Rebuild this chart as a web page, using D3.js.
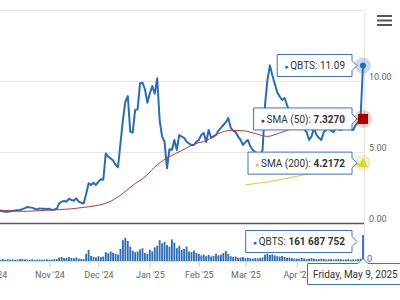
<!DOCTYPE html>
<html><head><meta charset="utf-8">
<script src="https://cdn.jsdelivr.net/npm/d3@7/dist/d3.min.js"></script>
<style>html,body{margin:0;padding:0;background:#fff;overflow:hidden}svg{display:block;font-family:Roboto,"Liberation Sans",Arial,sans-serif}</style>
</head><body>
<svg id="c" width="400" height="300"></svg>
<script>
// ---- data (one value per trading day, oldest first; last = Fri May 9 2025) ----
const price = [
 0.87,0.85,0.82,0.80,0.80, 0.82,0.85,0.88,0.90,0.92,
 0.98,1.05,1.13,1.10,1.08, 1.00,0.96,1.03,1.00,1.00,
 0.98,1.00,0.92,0.95,1.00, 1.38,1.50,1.55,1.50,1.71,
 1.62,1.57,1.74,1.50,1.42, 1.38,2.04,2.80,2.68,2.84,
 2.68,2.90,3.08,3.05,4.90, 4.67,4.55,4.40,4.10,3.92,
 5.60,7.25,8.54,8.94,6.43, 6.36,7.96,8.00,9.84,9.88,
 9.42,8.47,9.13,9.65,9.10, 10.19,7.25,6.08,5.72,3.85,
 5.20,5.14,5.85,5.14,6.20, 6.08,6.00,5.72,5.60,5.49,
 5.50,5.72,5.85,6.20,6.34, 5.70,6.55,6.00,6.10,6.20,
 6.50,6.70,6.90,7.10,7.40, 6.70,6.50,6.40,6.10,5.85,
 5.50,5.70,5.85,5.40,5.14, 5.00,4.90,4.80,5.14,8.30,
 10.07,11.10,10.40,9.80,9.20, 8.90,8.66,8.80,8.30,7.80,
 7.96,7.60,7.40,7.10,6.90, 6.60,6.40,5.85,6.10,6.70,
 6.20,6.00,5.85,6.40,6.55, 6.70,6.50,6.40,6.70,6.60,
 6.55,6.90,6.85,6.83,6.60, 6.55,6.90,7.10,7.40,11.09
];
const sma50Idx = [0,5,10,15,20,25,30,35,40,45,50,55,60,65,70,75,80,85,90,95,100,105,110,115,120,125,130,135,140,145,149];
const sma50 = [0.92,0.86,0.82,0.85,0.90,0.94,1.00,1.10,1.22,1.45,1.95,2.65,3.25,4.10,4.67,5.10,5.55,5.80,6.30,6.52,6.50,6.30,6.10,6.34,6.65,6.95,7.05,7.10,7.20,7.30,7.327];
const sma200Idx = [101,105,110,115,120,125,130,135,140,145,149];
const sma200 = [2.68,2.78,2.89,3.05,3.22,3.40,3.58,3.75,3.92,4.08,4.2172];
const volume = [ // millions of shares
 10,8,12,9,11,8,10,7,9,12,
 14,10,9,8,11,7,9,10,8,9,
 10,8,9,11,12,22,25,18,20,24,
 19,17,22,15,13,12,45,70,32,26,
 22,30,25,28,55,48,60,52,45,40,
 75,130,145,125,90,65,55,60,72,80,
 50,45,70,60,85,95,130,110,120,100,
 90,135,115,80,95,70,75,90,60,55,
 65,50,45,35,40,30,38,28,32,45,
 35,40,50,62,45,30,25,28,20,22,
 25,18,20,17,15,18,16,20,22,40,
 45,38,42,35,30,28,32,25,20,22,
 18,16,15,14,20,16,12,15,18,14,
 12,11,15,13,10,11,12,9,10,13,
 11,9,10,12,8,10,9,12,15,161.687752
];
const monthLabels = ["Oct '24","Nov '24","Dec '24","Jan '25","Feb '25","Mar '25","Apr '25"];
const monthStart = [-2,21,41,62,82,101,122];
const priceTicks = [0,5,10];
const gridTicks = [5,10,15];
const volumeTicks = [0];
const seriesName = "QBTS";
const lastDateLabel = "Friday, May 9, 2025";

// ---- drawing ----
const svg = d3.select("#c");
const BLUE = "#2b6cb3", RED = "#a41d1d", YEL = "#cfcf3a", BORDER = "#3f72ad";
const FONT = 'Roboto,"Liberation Sans",Arial,sans-serif';
const n = price.length;
const x = d3.scaleLinear().domain([0, n - 1]).range([-2.05, 363]);
const y = d3.scaleLinear().domain([0, 15]).range([223, 10]);
const yV = d3.scaleLinear().domain([0, 200]).range([261, 229]);

svg.append("defs").append("clipPath").attr("id","clipP")
  .append("rect").attr("x",0).attr("y",0).attr("width",364).attr("height",223);
svg.append("defs").append("clipPath").attr("id","clipV")
  .append("rect").attr("x",0).attr("y",224).attr("width",364).attr("height",38);

// gridlines
svg.append("g").selectAll("line").data(gridTicks).join("line")
  .attr("x1",0).attr("x2",364).attr("y1",d=>Math.round(y(d))+0.5).attr("y2",d=>Math.round(y(d))+0.5)
  .attr("stroke","#e6e6e6");
// right border line
svg.append("line").attr("x1",364.5).attr("x2",364.5).attr("y1",10).attr("y2",262).attr("stroke","#e6e6e6");
// volume baseline
svg.append("line").attr("x1",0).attr("x2",364).attr("y1",261.5).attr("y2",261.5).attr("stroke","#d8d8d8");

// price y axis (right)
const ya = svg.append("g").attr("transform","translate(369,0)")
  .call(d3.axisRight(y).tickValues(priceTicks).tickFormat(d3.format(".2f")).tickSize(0));
ya.select(".domain").remove();
ya.selectAll("text").attr("x",0).attr("dy",null).attr("y",-1.5).attr("fill","#666")
  .attr("font-size",9).attr("font-family",FONT);
// volume y axis
const yva = svg.append("g").attr("transform","translate(367,0)")
  .call(d3.axisRight(yV).tickValues(volumeTicks).tickFormat(d3.format("d")).tickSize(0));
yva.select(".domain").remove();
yva.selectAll("text").attr("x",0).attr("dy",null).attr("y",0.5).attr("fill","#666")
  .attr("font-size",9).attr("font-family",FONT);

// x axis
const xa = svg.append("g").attr("transform","translate(0,262)")
  .call(d3.axisBottom(x).tickValues(monthStart).tickFormat((d,i)=>monthLabels[i]).tickSize(5).tickPadding(5));
xa.select(".domain").remove();
xa.selectAll("line").attr("stroke","#ccc");
xa.selectAll("text").attr("fill","#666").attr("font-size",9).attr("font-family",FONT);

// volume bars
svg.append("g").attr("clip-path","url(#clipV)").selectAll("rect").data(volume).join("rect")
  .attr("x",(d,i)=>x(i)-0.9).attr("width",1.8)
  .attr("y",d=>yV(d)).attr("height",d=>yV(0)-yV(d)).attr("fill",BLUE);

// separator line between panes
svg.append("line").attr("x1",0).attr("x2",364).attr("y1",223.5).attr("y2",223.5).attr("stroke","#5a5a5a").attr("stroke-width",1.5);

const pg = svg.append("g").attr("clip-path","url(#clipP)");
pg.append("path").datum(price)
  .attr("d", d3.line().x((d,i)=>x(i)).y(d=>y(d)))
  .attr("fill","none").attr("stroke",BLUE).attr("stroke-width",2).attr("stroke-linejoin","round");
pg.append("path").datum(sma50)
  .attr("d", d3.line().x((d,i)=>x(sma50Idx[i])).y(d=>y(d)).curve(d3.curveMonotoneX))
  .attr("fill","none").attr("stroke","#b23a3a").attr("stroke-width",1);
pg.append("path").datum(sma200)
  .attr("d", d3.line().x((d,i)=>x(sma200Idx[i])).y(d=>y(d)).curve(d3.curveMonotoneX))
  .attr("fill","none").attr("stroke",YEL).attr("stroke-width",1);

// markers at last point
const lx = x(n-1);
const lp = price[n-1], l50 = sma50[sma50.length-1], l200 = sma200[sma200.length-1];
svg.append("circle").attr("cx",lx).attr("cy",y(lp)).attr("r",8).attr("fill",BLUE).attr("opacity",0.25);
svg.append("circle").attr("cx",lx).attr("cy",y(lp)).attr("r",3).attr("fill",BLUE);
svg.append("circle").attr("cx",lx).attr("cy",y(l50)).attr("r",9).attr("fill","#d33").attr("opacity",0.25);
svg.append("rect").attr("x",lx-5).attr("y",y(l50)-5).attr("width",10).attr("height",10).attr("fill","#a00000");
svg.append("circle").attr("cx",lx).attr("cy",y(l200)).attr("r",8).attr("fill",YEL).attr("opacity",0.3);
svg.append("path").attr("d",`M${lx},${y(l200)-5}L${lx+5},${y(l200)+4}L${lx-5},${y(l200)+4}Z`).attr("fill","#d8d83a");

// tooltips
function callout(cy, color, parts){
  const g = svg.append("g");
  const path = g.append("path");
  const t = g.append("text").attr("y",cy+3.6).attr("font-size",10).attr("fill","#333").attr("font-family",FONT);
  t.append("tspan").text("● ").attr("fill",color).attr("font-size",7);
  parts.forEach(p=>t.append("tspan").text(p.t).attr("font-weight",p.b?"bold":null));
  const w = t.node().getComputedTextLength();
  const right = 352, left = right - w - 14;
  t.attr("x", left + 7);
  path.attr("d",`M${left},${cy-11}H${right}V${cy-5}L${right+5},${cy}L${right},${cy+5}V${cy+11}H${left}Z`)
    .attr("fill","#fff").attr("fill-opacity",0.95).attr("stroke",BORDER).attr("stroke-width",1);
}
callout(y(lp), BLUE, [{t: seriesName + ": " + d3.format(".2f")(lp)}]);
callout(y(l50), RED, [{t:"SMA (50): "},{t:d3.format(".4f")(l50), b:true}]);
callout(y(l200), YEL, [{t:"SMA (200): "},{t:d3.format(".4f")(l200), b:true}]);
const lv = Math.round(volume[n-1]*1e6);
callout(241.5, BLUE, [{t: seriesName + ": "},{t:d3.format(",")(lv).replace(/,/g," "), b:true}]);

// date label
const dg = svg.append("g");
dg.append("path").attr("d",`M307.5,263.5H${lx-5}L${lx},258.5L${lx+5},263.5H404V284.5H307.5Z`)
  .attr("fill","#fff").attr("stroke",BORDER);
dg.append("text").attr("x",313).attr("y",277.5).attr("font-size",10).attr("fill","#333").attr("font-family",FONT).text(lastDateLabel);

// menu icon
svg.append("g").selectAll("line").data([16,20.5,25]).join("line")
  .attr("x1",377).attr("x2",392).attr("y1",d=>d).attr("y2",d=>d)
  .attr("stroke","#555").attr("stroke-width",2);
</script>
</body></html>
